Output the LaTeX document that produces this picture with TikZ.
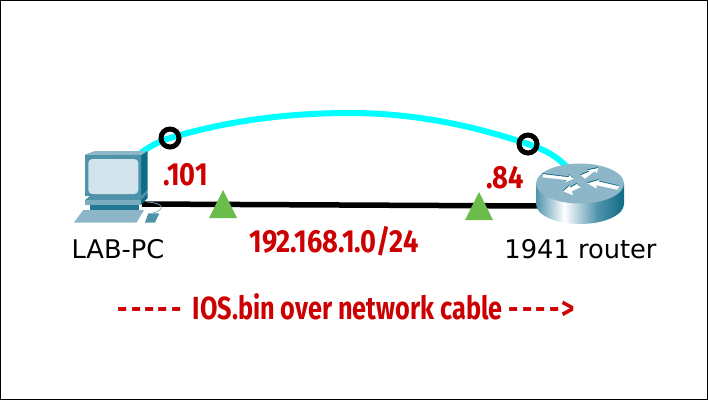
\documentclass[tikz,border=0pt]{standalone}
\usepackage{fontspec}
\setmainfont{DejaVu Sans}
\newfontfamily\condfont[FakeStretch=0.85]{Fira Sans Bold}
\newfontfamily\msgfont[FakeStretch=0.79]{Fira Sans Bold}
\definecolor{lblred}{HTML}{CC0000}
\definecolor{cableC}{HTML}{00FFFF}
\definecolor{tealA}{HTML}{8DB7C8}
\definecolor{tealB}{HTML}{4F93AB}
\definecolor{tealC}{HTML}{0F6C86}
\definecolor{screenC}{HTML}{D3E3EB}
\definecolor{greenT}{HTML}{6ABD4B}
\pgfdeclarehorizontalshading{routerside}{100bp}{
  color(0bp)=(tealB); color(25bp)=(tealB); color(41bp)=(white); color(60bp)=(tealB); color(75bp)=(tealC); color(100bp)=(tealC)}
\tikzset{
 x=1pt,y=-1pt,
 redlabel/.style={text=lblred,font=\condfont\fontsize{32}{32}\selectfont,inner sep=0pt,anchor=center},
 msglabel/.style={text=lblred,font=\msgfont\fontsize{32}{32}\selectfont,inner sep=0pt,anchor=center},
 devlabel/.style={font=\fontsize{25.7}{26}\selectfont,inner sep=0pt,anchor=base},
 tri/.style={fill=greenT,draw=none},
 ring/.style={draw=black,line width=5pt,circle,minimum size=18pt,inner sep=0pt,outer sep=0pt},
}
\newcommand{\rtarrow}[1]{%
  \fill[tealC,shift={(-0.4,-0.9)}] #1 -- cycle;
  \fill[white] #1 -- cycle;}
\begin{document}
\begin{tikzpicture}
\draw[black,line width=1pt,fill=white] (0.5,0.5) rectangle (707.5,399.5);
\useasboundingbox (0,0) rectangle (708,400);
\coordinate (pc) at (141,153);
\coordinate (pcport) at (142,204);
\coordinate (rt) at (567,167);
\coordinate (rtport) at (540,206);
\coordinate (r1) at (170,138);
\coordinate (r2) at (528,144);
\draw[cableC,line width=6pt] (pc) .. controls (150,146) and (160,141) .. (r1)
  .. controls (230,120) and (290,113) .. (350,113)
  .. controls (420,113) and (480,128) .. (r2)
  .. controls (545,150) and (555,155) .. (rt);
\node[ring] (ring1) at (r1) {};
\node[ring] (ring2) at (r2) {};
\draw[black,line width=5.5pt] (pcport) -- (rtport);
\fill[tri] (223,190) -- (237,218) -- (209,218) -- cycle;
\fill[tri] (479,192) -- (493,220) -- (465,220) -- cycle;
% PC
\fill[tealC] (141,155) -- (147.5,151) -- (147.5,190) -- (141,197) -- cycle;
\fill[tealA] (85,154.5) -- (95,151) -- (147.5,151) -- (141,155) -- cycle;
\fill[tealB] (85,154.5) -- (141,155) -- (141,196) -- (85,196) -- cycle;
\fill[screenC,rounded corners=4pt] (88.3,159) rectangle (138.3,194);
\fill[tealB] (90,196) -- (141,196) -- (147.5,190) -- (147.5,193) -- (141,200) -- (85,200) -- cycle;
\fill[tealC] (141,200) -- (147.5,193) -- (147.5,198) -- (141,205) -- cycle;
\fill[tealA!70!tealB] (85,200) rectangle (141,205);
\fill[tealC!70!tealB] (90,205) rectangle (138.5,210);
\fill[tealA] (74,222.5) -- (83.3,210) -- (144,210) -- (136.7,222.5) -- cycle;
\fill[tealB] (145,222.5) -- (148.3,213.3) -- (159.3,213.3) -- (155,222.5) -- cycle;
\draw[tealB!80!white,line width=0.7pt] (153,213) .. controls (165,210) and (165,203) .. (147,202);
% Router
\shade[shading=routerside] (536,183.5) -- (536,204) arc[start angle=180,end angle=360,x radius=44pt,y radius=20pt] -- (624,183.5) -- cycle;
\fill[tealA] (580,183.5) ellipse[x radius=44pt,y radius=20pt];
\rtarrow{(542.7,174) -- (569.3,177.3) -- (568.3,174.7) -- (574,178.7) -- (565,182.3) -- (566.7,180) -- (542.7,177.3)}
\rtarrow{(580.7,175.3) -- (590,171.3) -- (587.3,170.3) -- (598.3,168) -- (596.7,173) -- (594.3,171.3) -- (585,178.7)}
\rtarrow{(619.3,186.3) -- (598.3,181.3) -- (600,179.7) -- (587.3,183.3) -- (596.7,188.7) -- (596.7,185.3) -- (617.3,189.7)}
\rtarrow{(576.7,184) -- (570,188) -- (570,185.3) -- (563.3,191.3) -- (573.3,195.3) -- (571.7,191.3) -- (580.7,187.3)}
% Text
\node[devlabel] (pclabel) at (118,258) {LAB-PC};
\node[devlabel] (rtlabel) at (580.5,258) {1941 router};
\node[redlabel] (a1) at (185.5,175) {.101};
\node[redlabel] (a2) at (505,178) {.84};
\node[redlabel] (net) at (334,241) {192.168.1.0/24};
\node[msglabel] (msg) at (346,307) {-\kern3.2pt-\kern3.2pt-\kern3.2pt-\kern3.2pt-\kern11pt IOS.bin over network cable\kern6pt-\kern3.2pt-\kern3.2pt-\kern3.2pt-\kern2pt>};
\end{tikzpicture}
\end{document}
